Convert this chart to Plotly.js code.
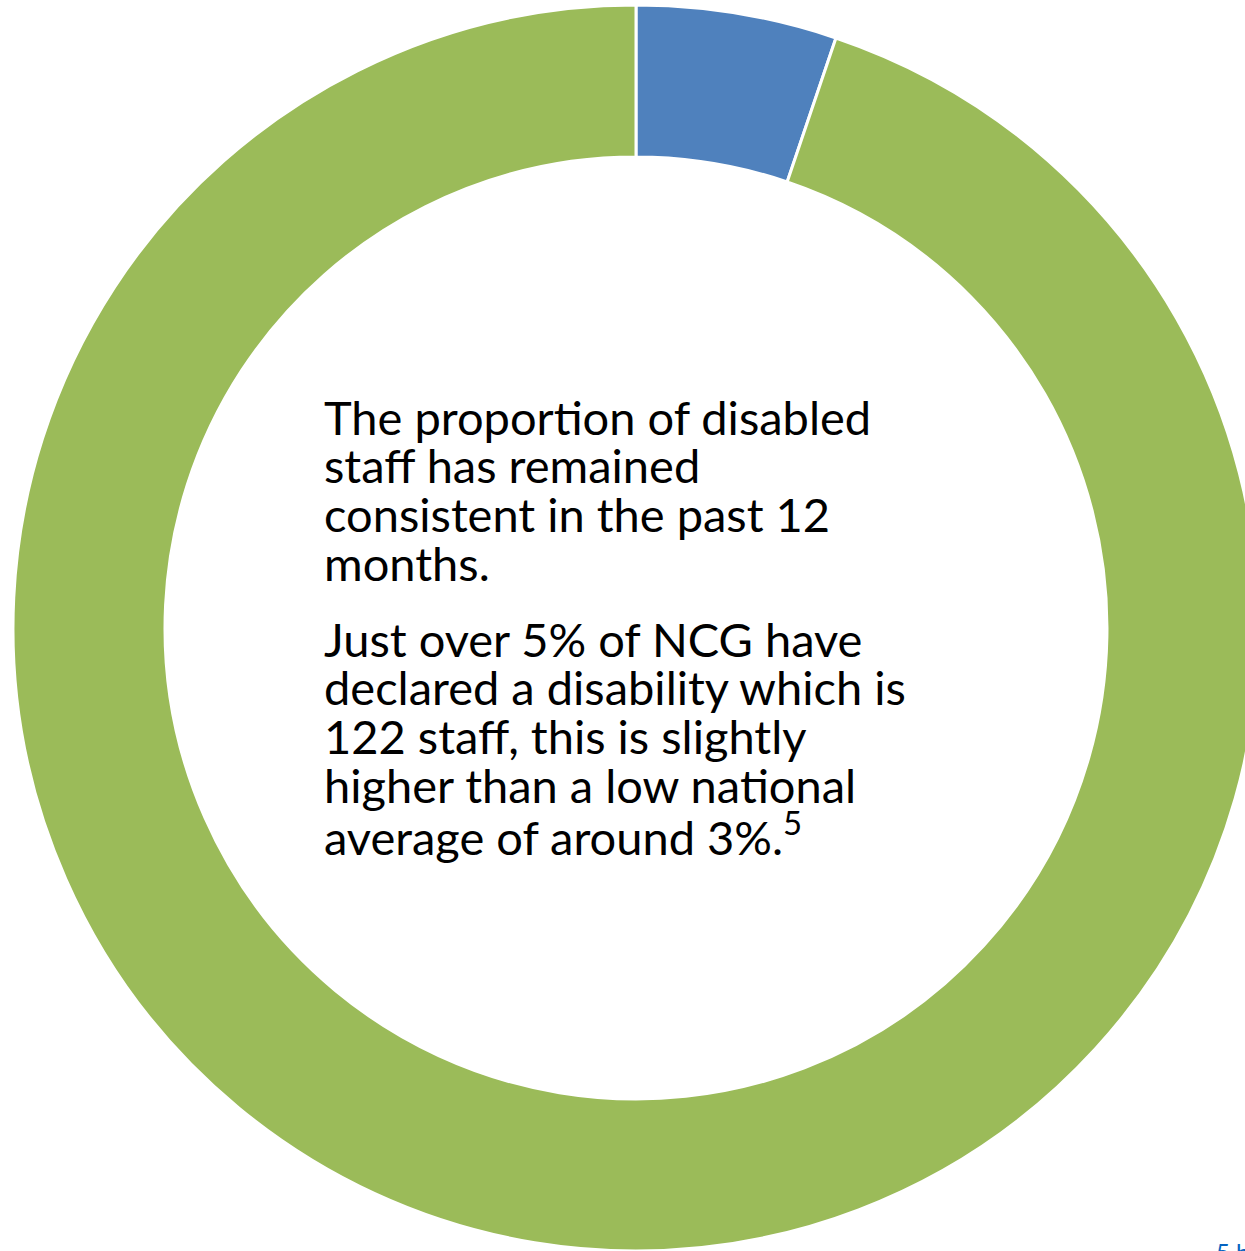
<!DOCTYPE html>
<html>
<head>
<meta charset="utf-8">
<script src="https://cdn.plot.ly/plotly-3.0.1.min.js"></script>
<style>
  html, body { margin:0; padding:0; background:#ffffff; overflow:hidden; width:1245px; height:1251px; }
  #chart { position:absolute; left:13px; top:5px; width:1246px; height:1246px; }
</style>
</head>
<body>
<div id="chart"></div>
<script>
// Data
const categories = ["Declared disability", "No declared disability"];
const shares = [5.2, 94.8];
const sliceColors = ["#4F81BD", "#9BBB59"];
const paragraph1 = ["The proportion of disabled", "staff has remained", "consistent in the past 12", "months."];
const paragraph2 = ["Just over 5% of NCG have", "declared a disability which is", "122 staff, this is slightly", "higher than a low national", "average of around 3%.<sup>5</sup>"];
const footnote = "5 https://";

// Layout helpers (pixel -> paper, div at (13,5), 1246x1246)
const W = 1246, H = 1246, OX = 13, OY = 5;
const px = x => (x - OX) / W;
const py = y => 1 - (y - OY) / H;

const font = "Lato, 'Open Sans', sans-serif";
const textSize = 47;
const lineGap = 48.8;

const annotations = [];
function addParagraph(lines, firstCenterY) {
  lines.forEach((t, i) => {
    annotations.push({
      xref: "paper", yref: "paper",
      x: px(322), y: py(firstCenterY + i * lineGap),
      xanchor: "left", yanchor: "middle", align: "left",
      showarrow: false,
      text: t,
      font: { family: font, size: textSize, color: "#000000" }
    });
  });
}
addParagraph(paragraph1, 416.5);
addParagraph(paragraph2, 638.5);
annotations.push({
  xref: "paper", yref: "paper",
  x: px(1214), y: py(1235),
  xanchor: "left", yanchor: "top", align: "left",
  showarrow: false,
  text: footnote,
  font: { family: font, size: 24, color: "#0563C1" }
});

const trace = {
  type: "pie",
  labels: categories,
  values: shares,
  hole: 0.756,
  sort: false,
  direction: "clockwise",
  rotation: 0,
  marker: { colors: sliceColors, line: { color: "#ffffff", width: 3 } },
  textinfo: "none",
  hoverinfo: "label+percent",
  showlegend: false,
  domain: { x: [0, 1], y: [0, 1] }
};

const layout = {
  width: W, height: H,
  margin: { l: 0, r: 0, t: 0, b: 0, pad: 0 },
  paper_bgcolor: "#ffffff",
  plot_bgcolor: "#ffffff",
  showlegend: false,
  annotations: annotations
};

Plotly.newPlot("chart", [trace], layout, { displayModeBar: false, staticPlot: true });
</script>
</body>
</html>
